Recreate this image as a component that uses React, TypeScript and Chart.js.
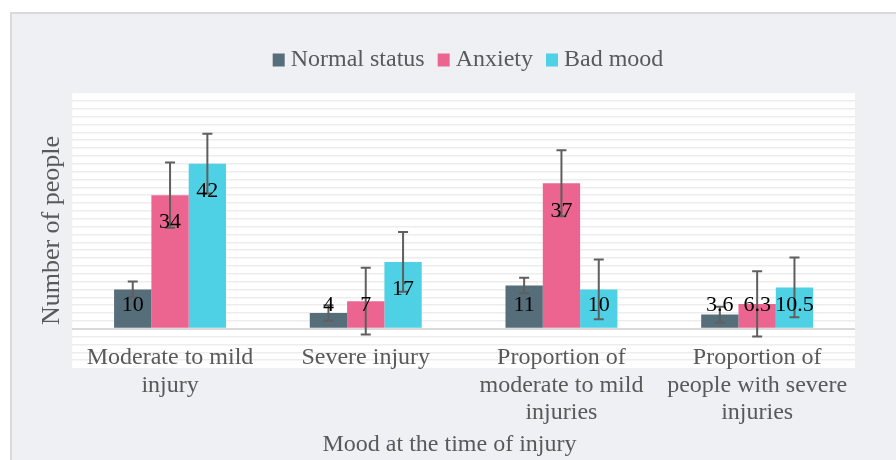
import React, { useEffect, useRef } from 'react';
import { Chart, registerables } from 'chart.js';

Chart.register(...registerables);

// ---------- data ----------
const categories: string[][] = [
  ['Moderate to mild', 'injury'],
  ['Severe injury'],
  ['Proportion of', 'moderate to mild', 'injuries'],
  ['Proportion of', 'people with severe', 'injuries'],
];
const seriesNames = ['Normal status', 'Anxiety', 'Bad mood'];
const normalStatus = [10, 4, 11, 3.6];
const anxiety = [34, 7, 37, 6.3];
const badMood = [42, 17, 10, 10.5];
const normalErr = [2, 2, 2, 2];
const anxietyErr = [8.3, 8.5, 8.4, 8.3];
const badMoodErr = [7.6, 7.6, 7.6, 7.6];
const yMin = -10;
const yMax = 60;
const yStep = 2;
const xTitle = 'Mood at the time of injury';
const yTitle = 'Number of people';

// ---------- styles ----------
const seriesColors = ['#566d7a', '#ec6590', '#4ed1e4'];
const FONT = '"Liberation Serif", "Times New Roman", serif';
const TEXT = '#595959';

const seriesValues = [normalStatus, anxiety, badMood];
const seriesErrors = [normalErr, anxietyErr, badMoodErr];

const plotBackground = {
  id: 'plotBackground',
  beforeDraw(chart: any) {
    const { ctx, chartArea } = chart;
    ctx.save();
    ctx.fillStyle = '#ffffff';
    ctx.fillRect(chartArea.left, chartArea.top, chartArea.right - chartArea.left, chartArea.bottom - chartArea.top);
    ctx.restore();
  },
};

// category labels drawn next to the zero line (the axis crosses at 0), plus the x title
const categoryLabels = {
  id: 'categoryLabels',
  afterDraw(chart: any) {
    const { ctx, chartArea } = chart;
    const xs = chart.scales.x;
    const base = chart.scales.y.getPixelForValue(0);
    ctx.save();
    ctx.font = `24px ${FONT}`;
    ctx.fillStyle = TEXT;
    ctx.textAlign = 'center';
    ctx.textBaseline = 'middle';
    const lineH = 27.5;
    categories.forEach((lines, i) => {
      const x = xs.getPixelForValue(i);
      lines.forEach((line, j) => {
        ctx.fillText(line, x, base + 29 + j * lineH);
      });
    });
    ctx.fillText(xTitle, chart.width / 2 + 1.5, chartArea.bottom + 77);
    ctx.restore();
  },
};

const errorBarsAndLabels = {
  id: 'errorBarsAndLabels',
  afterDatasetsDraw(chart: any) {
    const { ctx } = chart;
    const y = chart.scales.y;
    const base = y.getPixelForValue(0);
    ctx.save();
    ctx.strokeStyle = '#5f5f5f';
    ctx.lineWidth = 2;
    seriesValues.forEach((vals, d) => {
      const meta = chart.getDatasetMeta(d);
      meta.data.forEach((bar: any, i: number) => {
        const v = vals[i];
        const e = seriesErrors[d][i];
        const top = y.getPixelForValue(v + e);
        const bot = y.getPixelForValue(v - e);
        const x = bar.x;
        ctx.beginPath();
        ctx.moveTo(x, top);
        ctx.lineTo(x, bot);
        ctx.moveTo(x - 5, top);
        ctx.lineTo(x + 5, top);
        ctx.moveTo(x - 5, bot);
        ctx.lineTo(x + 5, bot);
        ctx.stroke();
      });
    });
    ctx.fillStyle = '#000000';
    ctx.font = `22px ${FONT}`;
    ctx.textAlign = 'center';
    ctx.textBaseline = 'middle';
    seriesValues.forEach((vals, d) => {
      const meta = chart.getDatasetMeta(d);
      meta.data.forEach((bar: any, i: number) => {
        const ly = Math.min(bar.y + 27.5, base - 23.5);
        ctx.fillText(String(vals[i]), bar.x, ly);
      });
    });
    ctx.restore();
  },
};

const customLegend = {
  id: 'customLegend',
  afterDraw(chart: any) {
    const { ctx } = chart;
    ctx.save();
    ctx.font = `24px ${FONT}`;
    ctx.textBaseline = 'middle';
    ctx.textAlign = 'left';
    const boxW = 12;
    const boxH = 13;
    const gap = 6;
    const itemGap = 13;
    const widths = seriesNames.map((n) => ctx.measureText(n).width);
    const total = widths.reduce((a, w) => a + boxW + gap + w, 0) + itemGap * (seriesNames.length - 1);
    const cx = 468;
    const cy = 60;
    let x = cx - total / 2;
    seriesNames.forEach((name, i) => {
      ctx.fillStyle = seriesColors[i];
      ctx.fillRect(x, cy - boxH / 2, boxW, boxH);
      x += boxW + gap;
      ctx.fillStyle = TEXT;
      ctx.fillText(name, x, cy);
      x += widths[i] + itemGap;
    });
    ctx.restore();
  },
};

export default function App() {
  const ref = useRef<HTMLCanvasElement | null>(null);

  useEffect(() => {
    if (!ref.current) return;
    const chart = new Chart(ref.current, {
      type: 'bar',
      data: {
        labels: categories.map((c) => c.join(' ')),
        datasets: seriesNames.map((name, i) => ({
          label: name,
          data: seriesValues[i],
          backgroundColor: seriesColors[i],
          borderWidth: 0,
          categoryPercentage: 0.572,
          barPercentage: 1,
        })),
      },
      options: {
        responsive: false,
        animation: false,
        devicePixelRatio: 1,
        layout: { padding: { top: 93, left: 37, right: 41, bottom: 92 } },
        plugins: {
          legend: { display: false },
          tooltip: { enabled: false },
        },
        scales: {
          x: {
            grid: { display: false, drawTicks: false },
            border: { display: false },
            ticks: { display: false },
            title: { display: false },
          },
          y: {
            min: yMin,
            max: yMax,
            ticks: { display: false, stepSize: yStep },
            border: { display: false },
            grid: {
              drawTicks: false,
              color: (c: any) => {
                const v = c.tick ? c.tick.value : null;
                if (v === 0) return '#d9d9d9';
                if (v === yMin || v === yMax) return 'rgba(0,0,0,0)';
                return '#ededed';
              },
              lineWidth: (c: any) => (c.tick && c.tick.value === 0 ? 2 : 1.5),
            },
            title: {
              display: true,
              text: yTitle,
              color: TEXT,
              font: { family: FONT, size: 26, lineHeight: 1.2 },
              padding: { top: 0, bottom: 4 },
            },
          },
        },
      },
      plugins: [plotBackground, errorBarsAndLabels, categoryLabels, customLegend],
    });
    return () => chart.destroy();
  }, []);

  return (
    <div style={{ position: 'fixed', left: 0, top: 0, width: 896, height: 460, background: '#ffffff', overflow: 'hidden' }}>
      <div
        style={{
          position: 'absolute',
          left: 10,
          top: 12,
          right: 0,
          bottom: 0,
          background: '#eff0f4',
          borderLeft: '2px solid #d9d9d9',
          borderTop: '2px solid #d9d9d9',
        }}
      />
      <canvas ref={ref} width={896} height={460} style={{ position: 'absolute', left: 0, top: 0, width: 896, height: 460 }} />
    </div>
  );
}
